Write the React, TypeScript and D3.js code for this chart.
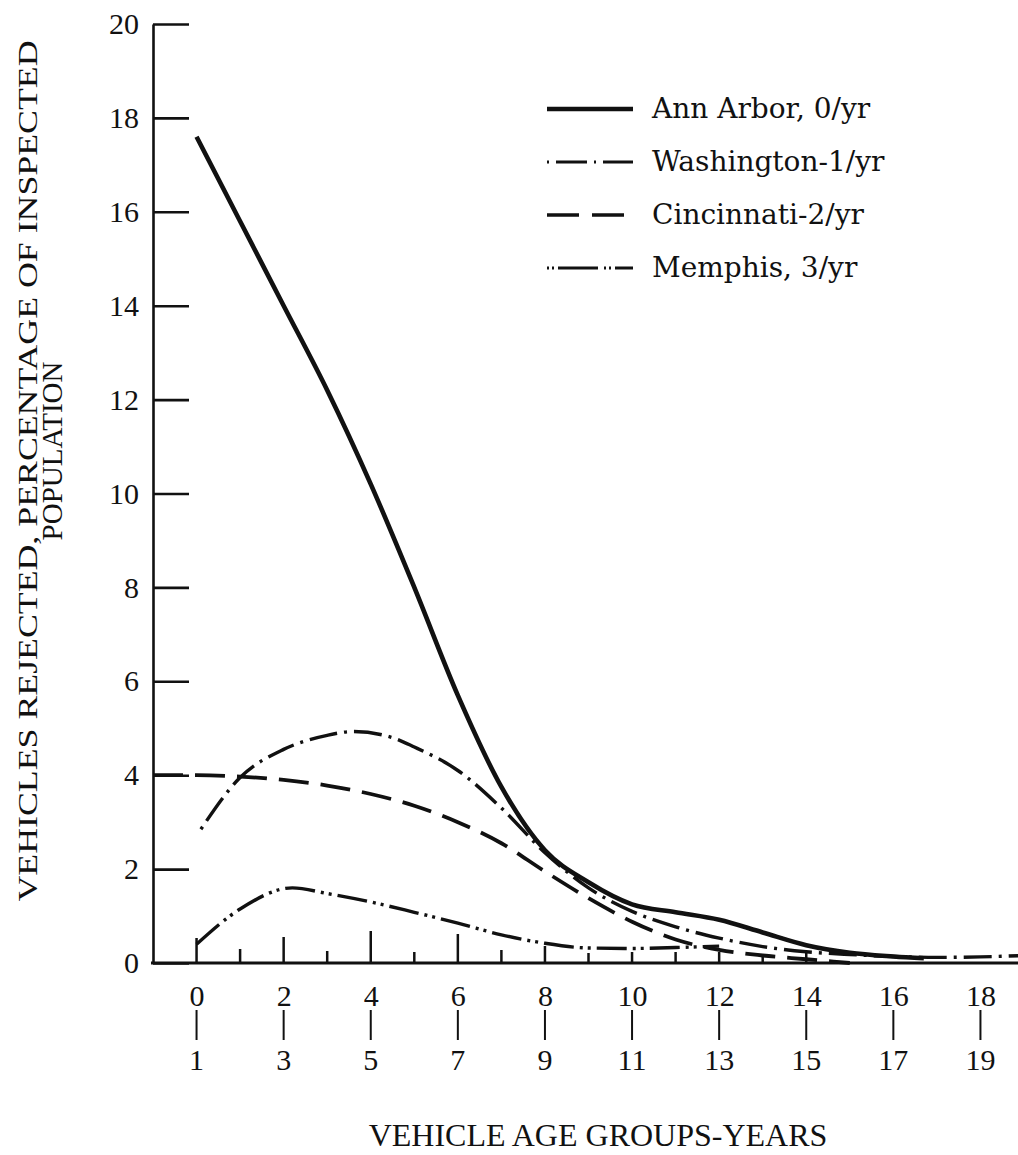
import React, { useEffect, useRef } from "react";
import * as d3 from "d3";

// values (percent rejected by vehicle age group)
const annArborAge = [0, 1, 2, 3, 4, 5, 6, 7, 8, 9, 10, 11, 12, 13, 14, 15, 16, 16.7];
const annArborPct = [17.6, 15.8, 14.0, 12.2, 10.2, 8.0, 5.7, 3.75, 2.4, 1.72, 1.25, 1.08, 0.92, 0.65, 0.38, 0.22, 0.14, 0.1];

const washingtonAge = [0.1, 1, 2, 3, 3.6, 4.5, 5, 6, 7, 8, 9, 10, 11, 12, 13, 14, 15, 16, 17, 18, 19];
const washingtonPct = [2.85, 3.95, 4.55, 4.85, 4.93, 4.8, 4.6, 4.1, 3.3, 2.35, 1.6, 1.1, 0.77, 0.53, 0.35, 0.24, 0.18, 0.14, 0.12, 0.13, 0.16];

const cincinnatiAge = [-1, 0, 1, 2, 3, 4, 5, 6, 7, 8, 9, 10, 11, 12, 13, 14, 15];
const cincinnatiPct = [4.0, 4.0, 3.97, 3.9, 3.78, 3.6, 3.35, 3.0, 2.55, 1.95, 1.38, 0.88, 0.5, 0.28, 0.16, 0.08, 0.0];

const memphisAge = [0, 1, 2.2, 3, 4, 5, 6, 7, 8, 9, 10, 11, 12];
const memphisPct = [0.4, 1.15, 1.6, 1.48, 1.3, 1.08, 0.85, 0.6, 0.42, 0.32, 0.31, 0.33, 0.36];

const legendNames = ["Ann Arbor, 0/yr", "Washington-1/yr", "Cincinnati-2/yr", "Memphis, 3/yr"];

const yTicks = [0, 2, 4, 6, 8, 10, 12, 14, 16, 18, 20];
const groupStarts = [0, 2, 4, 6, 8, 10, 12, 14, 16, 18];
const groupEnds = ["1", "3", "5", "7", "9", "11", "13", "15", "17", "19"];
const smallTickAges = [0, 1, 2, 3, 4, 5, 6, 7, 8, 9, 10, 11, 12, 13, 14];

// hand drawn tick heights on the age axis
const smallTickLen = [25, 14, 26, 12, 32, 11, 29, 13, 17, 10, 11, 11, 11, 9, 11];

const serif = "'Liberation Serif', 'Times New Roman', serif";

const App = () => {
    const ref = useRef<SVGSVGElement>(null);

    useEffect(() => {
        document.body.style.margin = "0";
        const svg = d3.select(ref.current);
        svg.selectAll("*").remove();

        const x = d3.scaleLinear().domain([-1, 19]).range([153, 1024]);
        const y = d3.scaleLinear().domain([0, 20]).range([963, 24]);

        // y axis with ticks pointing inward
        const yAxis = d3.axisLeft(y)
            .tickValues(yTicks)
            .tickSizeInner(-36)
            .tickSizeOuter(0)
            .tickPadding(14);

        const gy = svg.append("g")
            .attr("transform", "translate(153,0)")
            .call(yAxis);
        gy.selectAll("path, line").attr("stroke", "#111").attr("stroke-width", 2.6);
        gy.selectAll("text")
            .attr("font-family", serif)
            .attr("font-size", 30)
            .attr("fill", "#111");

        // x axis line
        svg.append("line")
            .attr("x1", 151).attr("x2", 1018)
            .attr("y1", 963).attr("y2", 963)
            .attr("stroke", "#111").attr("stroke-width", 3);

        svg.selectAll(".smalltick")
            .data(smallTickAges)
            .enter()
            .append("line")
            .attr("x1", (d) => x(d)).attr("x2", (d) => x(d))
            .attr("y1", 963)
            .attr("y2", (d, i) => 963 - smallTickLen[i])
            .attr("stroke", "#111").attr("stroke-width", 2.5);

        const xAxis = d3.axisBottom(x)
            .tickValues(groupStarts)
            .tickSize(0)
            .tickPadding(22);
        const gx = svg.append("g")
            .attr("transform", "translate(0,963)")
            .call(xAxis);
        gx.select(".domain").remove();
        gx.selectAll("text")
            .attr("font-family", serif)
            .attr("font-size", 30)
            .attr("fill", "#111");

        // age group range: start | end
        svg.selectAll(".bar")
            .data(groupStarts)
            .enter()
            .append("line")
            .attr("x1", (d) => x(d)).attr("x2", (d) => x(d))
            .attr("y1", 1010).attr("y2", 1040)
            .attr("stroke", "#111").attr("stroke-width", 2);

        svg.selectAll(".endlabel")
            .data(groupStarts)
            .enter()
            .append("text")
            .attr("x", (d) => x(d))
            .attr("y", 1070)
            .attr("text-anchor", "middle")
            .attr("font-family", serif)
            .attr("font-size", 30)
            .attr("fill", "#111")
            .text((d, i) => groupEnds[i]);

        svg.append("text")
            .attr("x", 598)
            .attr("y", 1146)
            .attr("text-anchor", "middle")
            .attr("font-family", serif)
            .attr("font-size", 32)
            .attr("fill", "#111")
            .text("VEHICLE AGE GROUPS-YEARS");

        svg.append("text")
            .attr("transform", "translate(37,471) rotate(-90)")
            .attr("text-anchor", "middle")
            .attr("font-family", serif)
            .attr("font-size", 28)
            .attr("textLength", 861)
            .attr("lengthAdjust", "spacingAndGlyphs")
            .attr("fill", "#111")
            .text("VEHICLES REJECTED,  PERCENTAGE OF INSPECTED");
        svg.append("text")
            .attr("transform", "translate(62,451) rotate(-90)")
            .attr("text-anchor", "middle")
            .attr("font-family", serif)
            .attr("font-size", 29)
            .attr("fill", "#111")
            .text("POPULATION");

        const series = [
            { age: cincinnatiAge, pct: cincinnatiPct, dash: "30,12", width: 3.8 },
            { age: memphisAge, pct: memphisPct, dash: "30,6,3,5,3,6", width: 3.4 },
            { age: washingtonAge, pct: washingtonPct, dash: "3,7,28,7", width: 3.4 },
            { age: annArborAge, pct: annArborPct, dash: null, width: 4.6 },
        ];

        series.forEach((s) => {
            const line = d3.line<number>()
                .x((d, i) => x(s.age[i]))
                .y((d) => y(d))
                .curve(d3.curveMonotoneX);
            svg.append("path")
                .datum(s.pct)
                .attr("d", line)
                .attr("fill", "none")
                .attr("stroke", "#111")
                .attr("stroke-width", s.width)
                .attr("stroke-dasharray", s.dash)
                .attr("stroke-linecap", "butt");
        });

        // legend
        const legendDash = [null, "2,7,31,7,2,7,30", "32,13", "2,3,2,4,40,6,2,3,2,4,20"];
        const legendWidth = [4.6, 3, 3.4, 3];
        const legend = svg.append("g");
        legendNames.forEach((name, i) => {
            const ly = 109 + i * 53;
            legend.append("line")
                .attr("x1", 547).attr("x2", 633)
                .attr("y1", ly).attr("y2", ly)
                .attr("stroke", "#111")
                .attr("stroke-width", legendWidth[i])
                .attr("stroke-dasharray", legendDash[i]);
            legend.append("text")
                .attr("x", 652)
                .attr("y", ly + 9)
                .attr("font-family", "'DejaVu Serif', serif")
                .attr("font-size", 28)
                .attr("fill", "#111")
                .text(name);
        });
    }, []);

    return (
        <svg ref={ref} width={1018} height={1155} style={{ display: "block", background: "#fff" }} />
    );
};

export default App;
